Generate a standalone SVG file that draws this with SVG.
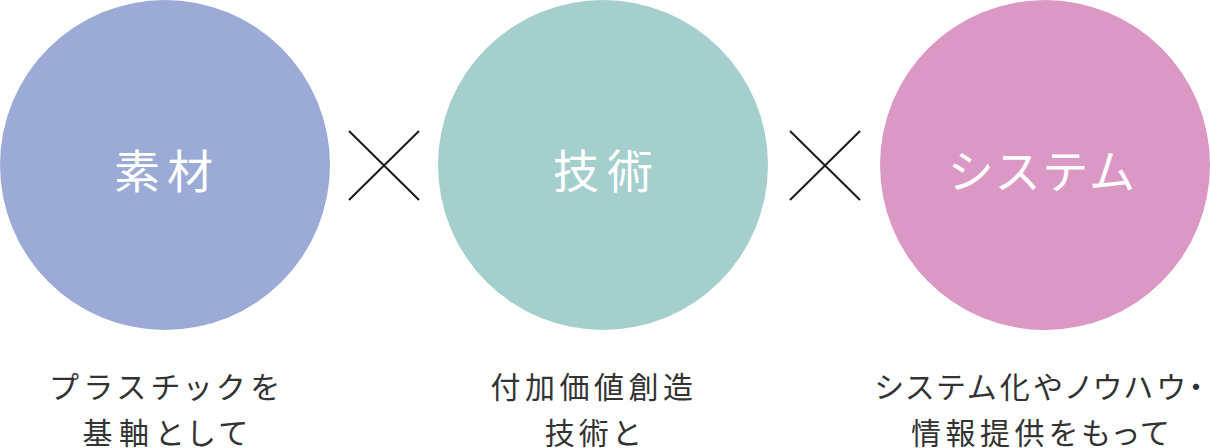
<svg xmlns="http://www.w3.org/2000/svg" width="1210" height="448" viewBox="0 0 1210 448">
<style>
.title{font-family:"Noto Sans CJK JP","Noto Sans CJK SC",sans-serif;font-size:46px;fill:#ffffff;text-anchor:middle;letter-spacing:8px;font-feature-settings:"palt" 1}
.sub{font-family:"Noto Sans CJK JP","Noto Sans CJK SC",sans-serif;font-size:30px;fill:#333333;text-anchor:middle;letter-spacing:4px;font-feature-settings:"palt" 1}
.x{stroke:#1a1a1a;stroke-width:2;fill:none}
</style>
<rect width="1210" height="448" fill="#ffffff"/>
<g id="node-sozai">
<circle cx="165" cy="165" r="165" fill="#9BABD6"/>
<text class="title" x="167" y="188" style="letter-spacing:7px">素材</text>
<text class="sub" x="168" y="398" style="letter-spacing:7px">プラスチックを</text>
<text class="sub" x="168" y="444" style="letter-spacing:6.5px">基軸として</text>
</g>
<g id="node-gijutsu">
<circle cx="603" cy="165" r="165" fill="#A4CFCD"/>
<text class="title" x="607" y="188">技術</text>
<text class="sub" x="594" y="398" style="letter-spacing:4.5px">付加価値創造</text>
<text class="sub" x="594" y="444">技術と</text>
</g>
<g id="node-system">
<circle cx="1045" cy="165" r="165" fill="#DB98C5"/>
<text class="title" x="1044" y="188" style="letter-spacing:6px">システム</text>
<text class="sub" x="1041" y="398">システム化やノウハウ・</text>
<text class="sub" x="1042" y="444" style="letter-spacing:4.5px">情報提供をもって</text>
</g>
<g id="connectors">
<path class="x" d="M349 131 L419 200 M419 131 L349 200"/>
<path class="x" d="M790 131 L860 200 M860 131 L790 200"/>
</g>
</svg>
